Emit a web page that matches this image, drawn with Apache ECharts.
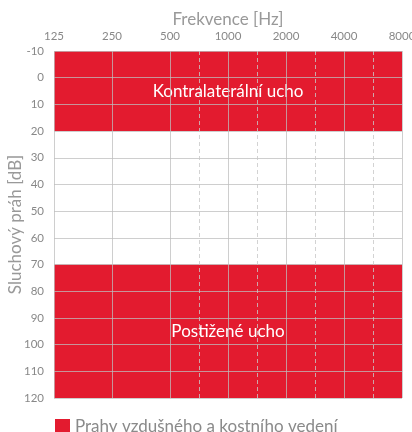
<!DOCTYPE html>
<html>
<head>
<meta charset="utf-8">
<script src="https://cdn.jsdelivr.net/npm/echarts@6/dist/echarts.min.js"></script>
<style>
  html, body { margin: 0; padding: 0; background: #fff; }
  #chart { width: 412px; height: 432px; }
</style>
</head>
<body>
<div id="chart"></div>
<script>
// frekvence po oktavach (index 0..6)
var freqLabels = ['125', '250', '500', '1000', '2000', '4000', '8000'];
// mezilehle frekvence 750, 1500, 3000, 6000 - carkovane
var halfSteps = [2.5, 3.5, 4.5, 5.5];
// pasma [od, do] v dB
var zoneNames = ['Kontralaterální ucho', 'Postižené ucho'];
var zoneFrom = [-10, 70];
var zoneTo = [20, 120];
var seriesName = 'Prahy vzdušného a kostního vedení';

var red = '#E31B2F';
var font = 'Lato';

function initChart() {
    var areas = [];
    for (var i = 0; i < zoneNames.length; i++) {
        areas.push([
            {name: zoneNames[i], yAxis: zoneFrom[i]},
            {yAxis: zoneTo[i]}
        ]);
    }
    var dashed = halfSteps.map(function (v) {
        return {xAxis: v};
    });

    var option = {
        animation: false,
        textStyle: {fontFamily: font},
        grid: {left: 54, right: 10, top: 51, bottom: 34, outerBoundsMode: 'none', containLabel: false},
        legend: {
            left: 50,
            top: 413,
            icon: 'rect',
            itemWidth: 15,
            itemHeight: 15,
            itemGap: 8,
            textStyle: {fontSize: 17, color: '#8a8a8a', fontFamily: font},
            data: [seriesName]
        },
        xAxis: {
            type: 'value',
            position: 'top',
            min: 0,
            max: 6,
            interval: 1,
            z: 3,
            name: 'Frekvence [Hz]',
            nameLocation: 'middle',
            nameGap: 23,
            nameMoveOverlap: false,
            nameTextStyle: {fontSize: 17, color: '#999', fontFamily: font},
            axisLine: {show: false},
            axisTick: {show: false},
            axisLabel: {
                color: '#888',
                fontSize: 11.5,
                margin: 9,
                formatter: function (v) {
                    return freqLabels[Math.round(v)] || '';
                }
            },
            splitLine: {show: true, lineStyle: {color: 'rgba(190,190,190,0.75)', width: 1}}
        },
        yAxis: {
            type: 'value',
            inverse: true,
            min: -10,
            max: 120,
            interval: 10,
            z: 3,
            name: 'Sluchový práh [dB]',
            nameLocation: 'middle',
            nameGap: 30,
            nameMoveOverlap: false,
            nameRotate: 90,
            nameTextStyle: {fontSize: 17, color: '#999', fontFamily: font},
            axisLine: {show: false},
            axisTick: {show: false},
            axisLabel: {color: '#888', fontSize: 11.5, margin: 10},
            splitLine: {show: true, lineStyle: {color: 'rgba(190,190,190,0.75)', width: 1}}
        },
        series: [
            {
                name: seriesName,
                type: 'line',
                color: red,
                data: [],
                markArea: {
                    silent: true,
                    itemStyle: {color: red, opacity: 1},
                    label: {
                        show: true,
                        position: 'inside',
                        color: '#fff',
                        fontSize: 17,
                        fontFamily: font
                    },
                    data: areas
                },
                markLine: {
                    silent: true,
                    symbol: 'none',
                    label: {show: false},
                    lineStyle: {color: 'rgba(200,200,200,0.8)', type: [4, 3], width: 1},
                    data: dashed
                }
            }
        ]
    };
    var chart = echarts.init(document.getElementById('chart'));
    chart.setOption(option);
}

initChart();
</script>
</body>
</html>
